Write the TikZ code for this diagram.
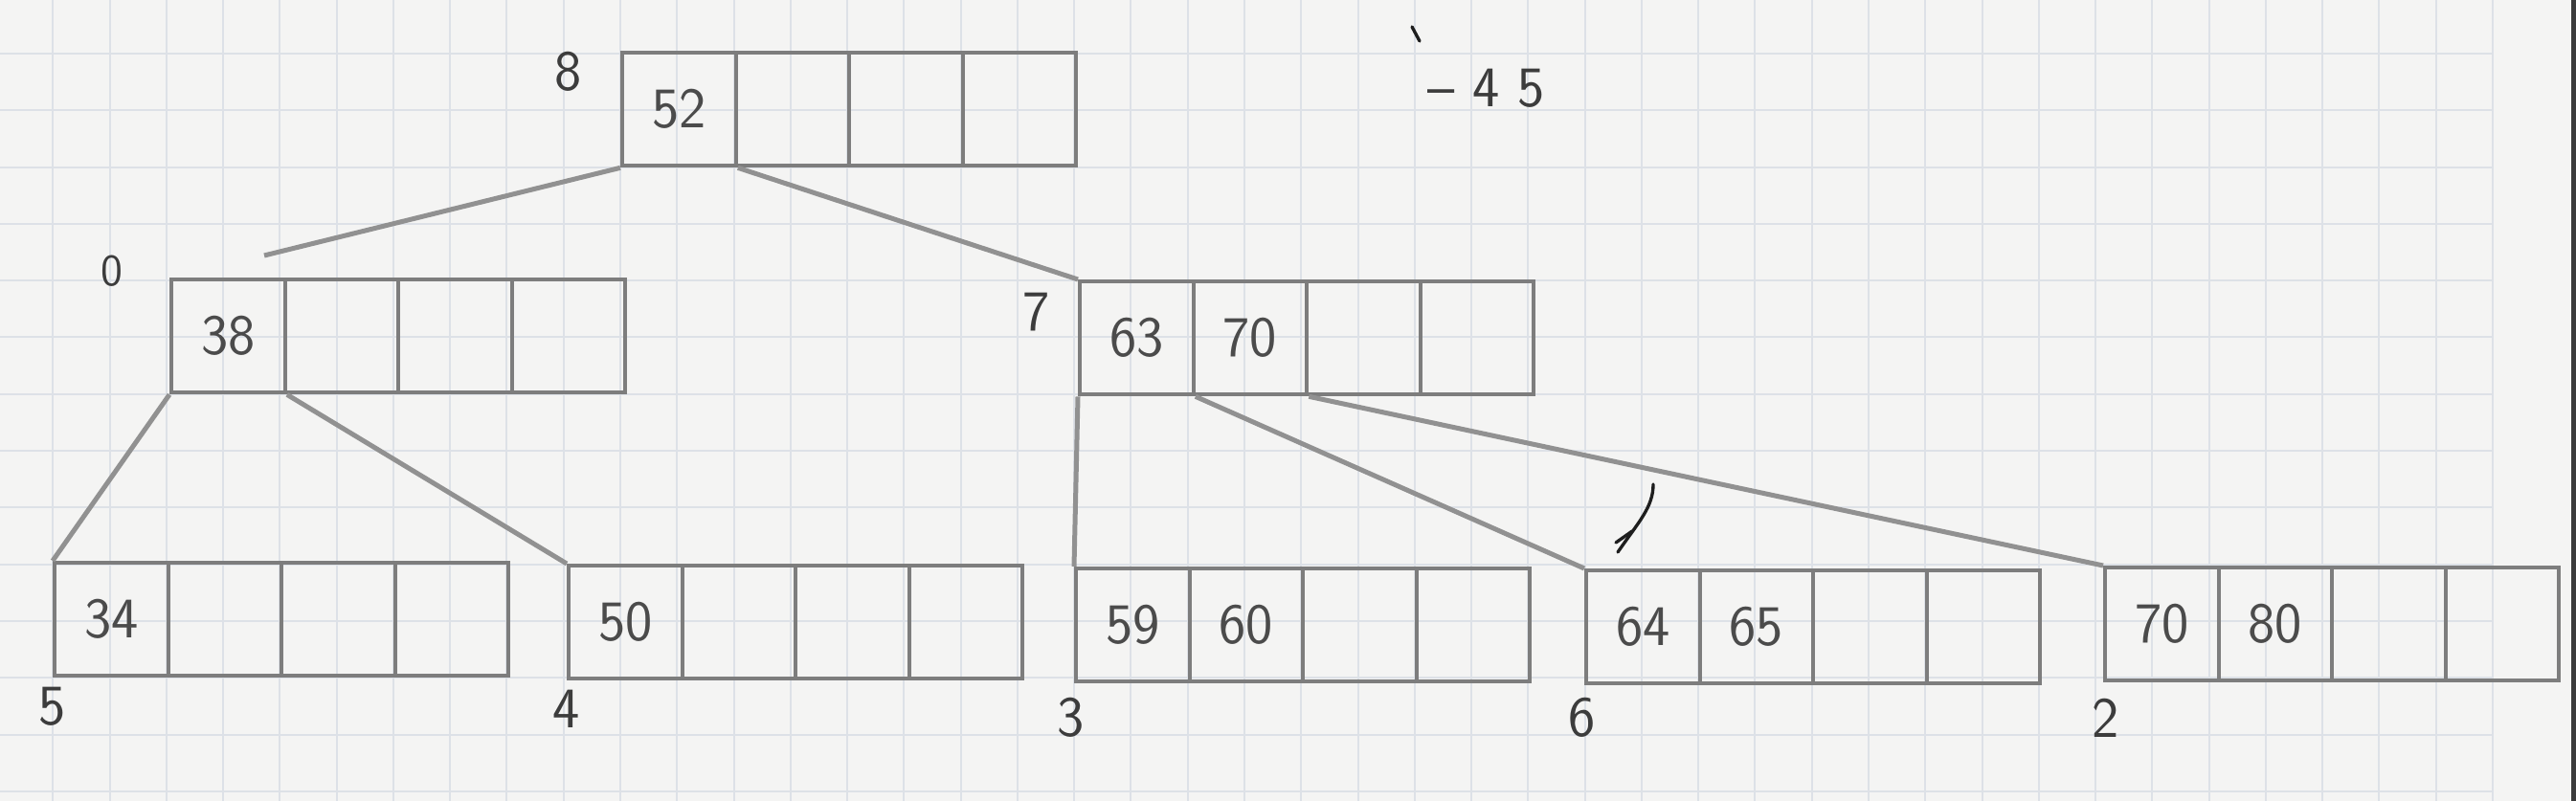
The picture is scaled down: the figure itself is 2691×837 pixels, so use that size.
\documentclass[tikz,border=0pt]{standalone}
\usepackage{fontspec}

\tikzset{every picture/.style={line width=0.75pt}}
\tikzset{
	paper/.style={fill={rgb, 255:red, 244; green, 244; blue, 243}},
	gridline/.style={draw={rgb, 255:red, 221; green, 225; blue, 231}, line width=0.6pt},
	cell/.style={draw={rgb, 255:red, 125; green, 125; blue, 125}, line width=1.3pt, anchor=north west, inner sep=0pt,
		minimum width=35.55pt, minimum height=35.4pt, text={rgb, 255:red, 75; green, 75; blue, 75},
		font=\sffamily\fontsize{18}{20}\selectfont},
	link/.style={draw={rgb, 255:red, 145; green, 145; blue, 145}, line width=1.5pt},
	pagelabel/.style={text={rgb, 255:red, 60; green, 60; blue, 60}, font=\sffamily\fontsize{18}{20}\selectfont},
	inkmark/.style={draw={rgb, 255:red, 30; green, 30; blue, 30}, line width=1pt, line cap=round}
}

\begin{document}
\begin{tikzpicture}[x=0.3pt,y=0.3pt,yscale=-1,xscale=1]
	\useasboundingbox (0,0) rectangle (2691,837);

	%Paper and grid
	\fill[paper] (0,0) rectangle (2691,837);
	\foreach \i in {0,...,43}
		\draw[gridline] ({55.3+\i*59.27},0) -- ({55.3+\i*59.27},837);
	\foreach \j in {0,...,13}
		\draw[gridline] (0,{56+\j*59.3}) -- (2604,{56+\j*59.3});
	\fill[fill={rgb, 255:red, 60; green, 60; blue, 60}] (2686,0) rectangle (2691,837);

	%Pages
	\foreach \k [count=\i] in {52,{},{},{}}
		\node[cell] (p8-\i) at ({648+(\i-1)*118.5},53) {\k};
	\foreach \k [count=\i] in {38,{},{},{}}
		\node[cell] (p0-\i) at ({177+(\i-1)*118.5},290) {\k};
	\foreach \k [count=\i] in {63,70,{},{}}
		\node[cell] (p7-\i) at ({1126+(\i-1)*118.5},292) {\k};
	\foreach \k [count=\i] in {34,{},{},{}}
		\node[cell] (p5-\i) at ({55+(\i-1)*118.5},586) {\k};
	\foreach \k [count=\i] in {50,{},{},{}}
		\node[cell] (p4-\i) at ({592+(\i-1)*118.5},589) {\k};
	\foreach \k [count=\i] in {59,60,{},{}}
		\node[cell] (p3-\i) at ({1122+(\i-1)*118.5},592) {\k};
	\foreach \k [count=\i] in {64,65,{},{}}
		\node[cell] (p6-\i) at ({1655+(\i-1)*118.5},594) {\k};
	\foreach \k [count=\i] in {70,80,{},{}}
		\node[cell] (p2-\i) at ({2197+(\i-1)*118.5},591) {\k};

	% Text Node
	\node[pagelabel] (l8) at (594,75) {8};
	% Text Node
	\node[pagelabel, font=\sffamily\fontsize{14}{16}\selectfont] (l0) at (117,283) {0};
	% Text Node
	\node[pagelabel] (l7) at (1083,326) {7};
	% Text Node
	\node[pagelabel] (l5) at (55,738) {5};
	% Text Node
	\node[pagelabel] (l4) at (592,741) {4};
	% Text Node
	\node[pagelabel] (l3) at (1119,750) {3};
	% Text Node
	\node[pagelabel] (l6) at (1653,750) {6};
	% Text Node
	\node[pagelabel] (l2) at (2200,750) {2};
	% Text Node
	\node[pagelabel] (del) at (1553,92) {-- 4 5};

	%Pointers
	\coordinate (c0) at (276,267);
	\draw[link] (p8-1.south west) -- (c0);
	\draw[link] (p8-1.south east) -- (p7-1.north west);
	\draw[link] (p0-1.south west) -- (p5-1.north west);
	\draw[link] (p0-1.south east) -- (p4-1.north west);
	\draw[link] (p7-1.south west) -- (p3-1.north west);
	\draw[link] (p7-1.south east) -- (p6-1.north west);
	\draw[link] (p7-2.south east) -- (p2-1.north west);

	%Marks
	\draw[inkmark] (1690,577) .. controls (1712,545) and (1727,530) .. (1727,506);
	\draw[inkmark] (1688,567) -- (1705,555);
	\draw[inkmark] (1475,28) -- (1483,43);
\end{tikzpicture}
\end{document}
